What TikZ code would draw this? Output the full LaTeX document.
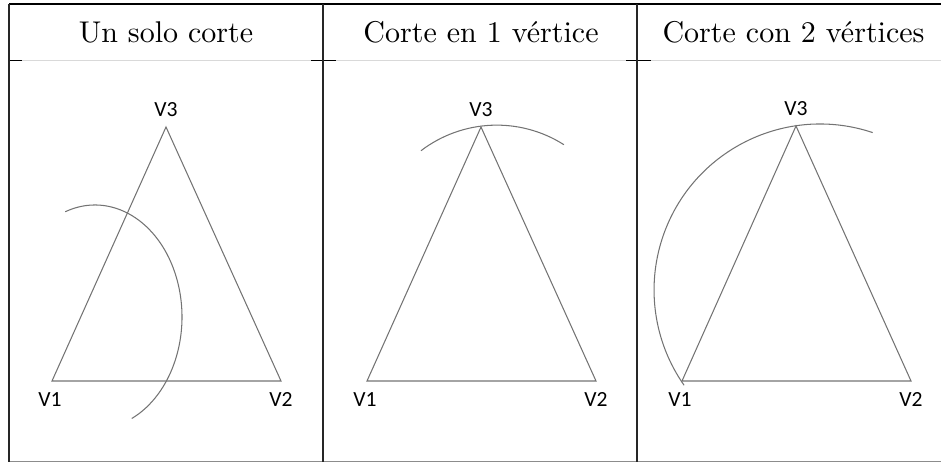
\documentclass[tikz,border=0pt]{standalone}
\usepackage{fontspec}
\newfontfamily\lblfont{Carlito}
\usetikzlibrary{positioning}

\begin{document}
\begin{tikzpicture}[
  x=0.3333pt, y=0.3333pt,
  rule/.style={line width=0.5pt, black!85},
  faint/.style={line width=0.4pt, black!15},
  tick/.style={line width=0.5pt, black},
  edge/.style={line width=0.35pt, black!55},
  cut/.style={line width=0.35pt, black!55},
  title/.style={anchor=base, inner sep=0pt, font=\fontsize{10}{12}\selectfont},
  vlabel/.style={inner sep=0pt, font=\lblfont\fontsize{7.2}{8}\selectfont}
]
\useasboundingbox (0,0) rectangle (941,463);

% table frame
\draw[faint] (9,402.5) -- (941,402.5);
\draw[tick] (9,402.5) -- (22,402.5);
\draw[tick] (311,402.5) -- (336,402.5);
\draw[tick] (626,402.5) -- (651,402.5);
\draw[line width=0.5pt] (9,459) -- (941,459);
\draw[line width=0.5pt, black!45] (9,1.5) -- (941,1.5);
\draw[rule] (9,1.5) -- (9,459);
\draw[rule] (323,1.5) -- (323,459);
\draw[rule] (637,1.5) -- (637,459);

% headers
\node[title] (hsolo) at (166,420) {Un solo corte};
\node[title] (huno) at (481,420) {Corte en 1 vértice};
\node[title] (hdos) at (793.5,420) {Corte con 2 vértices};

% panel 1
\coordinate (s1) at (52,82);
\coordinate (s2) at (281,82);
\coordinate (s3) at (166,336);
\draw[edge] (s1) -- (s2) -- (s3) -- cycle;
\node[vlabel, below=3.5pt of s1, xshift=-0.7pt] (ls1) {V1};
\node[vlabel, below=3.5pt of s2] (ls2) {V2};
\node[vlabel, above=3.3pt of s3] (ls3) {V3};
\coordinate (sc) at (65.24,251.25);
\draw[cut] (sc) arc[start angle=110, end angle=-65, x radius=87, y radius=112];

% panel 2
\coordinate (u1) at (367,82);
\coordinate (u2) at (596,82);
\coordinate (u3) at (481,336);
\draw[edge] (u1) -- (u2) -- (u3) -- cycle;
\node[vlabel, below=3.5pt of u1, xshift=-0.7pt] (lu1) {V1};
\node[vlabel, below=3.5pt of u2] (lu2) {V2};
\node[vlabel, above=3.3pt of u3] (lu3) {V3};
\coordinate (uc) at (421,312.3);
\draw[cut] (uc) arc[start angle=127.3, end angle=57.5, radius=125];

% panel 3
\coordinate (d1) at (682,82);
\coordinate (d2) at (911,82);
\coordinate (d3) at (796,337);
\draw[edge] (d1) -- (d2) -- (d3) -- cycle;
\node[vlabel, below=3.5pt of d1, xshift=-0.7pt] (ld1) {V1};
\node[vlabel, below=3.5pt of d2] (ld2) {V2};
\node[vlabel, above=3.3pt of d3] (ld3) {V3};
\coordinate (dc) at (872.7,330.4);
\draw[cut] (dc) arc[start angle=71.5, end angle=215, radius=166];
\end{tikzpicture}
\end{document}
